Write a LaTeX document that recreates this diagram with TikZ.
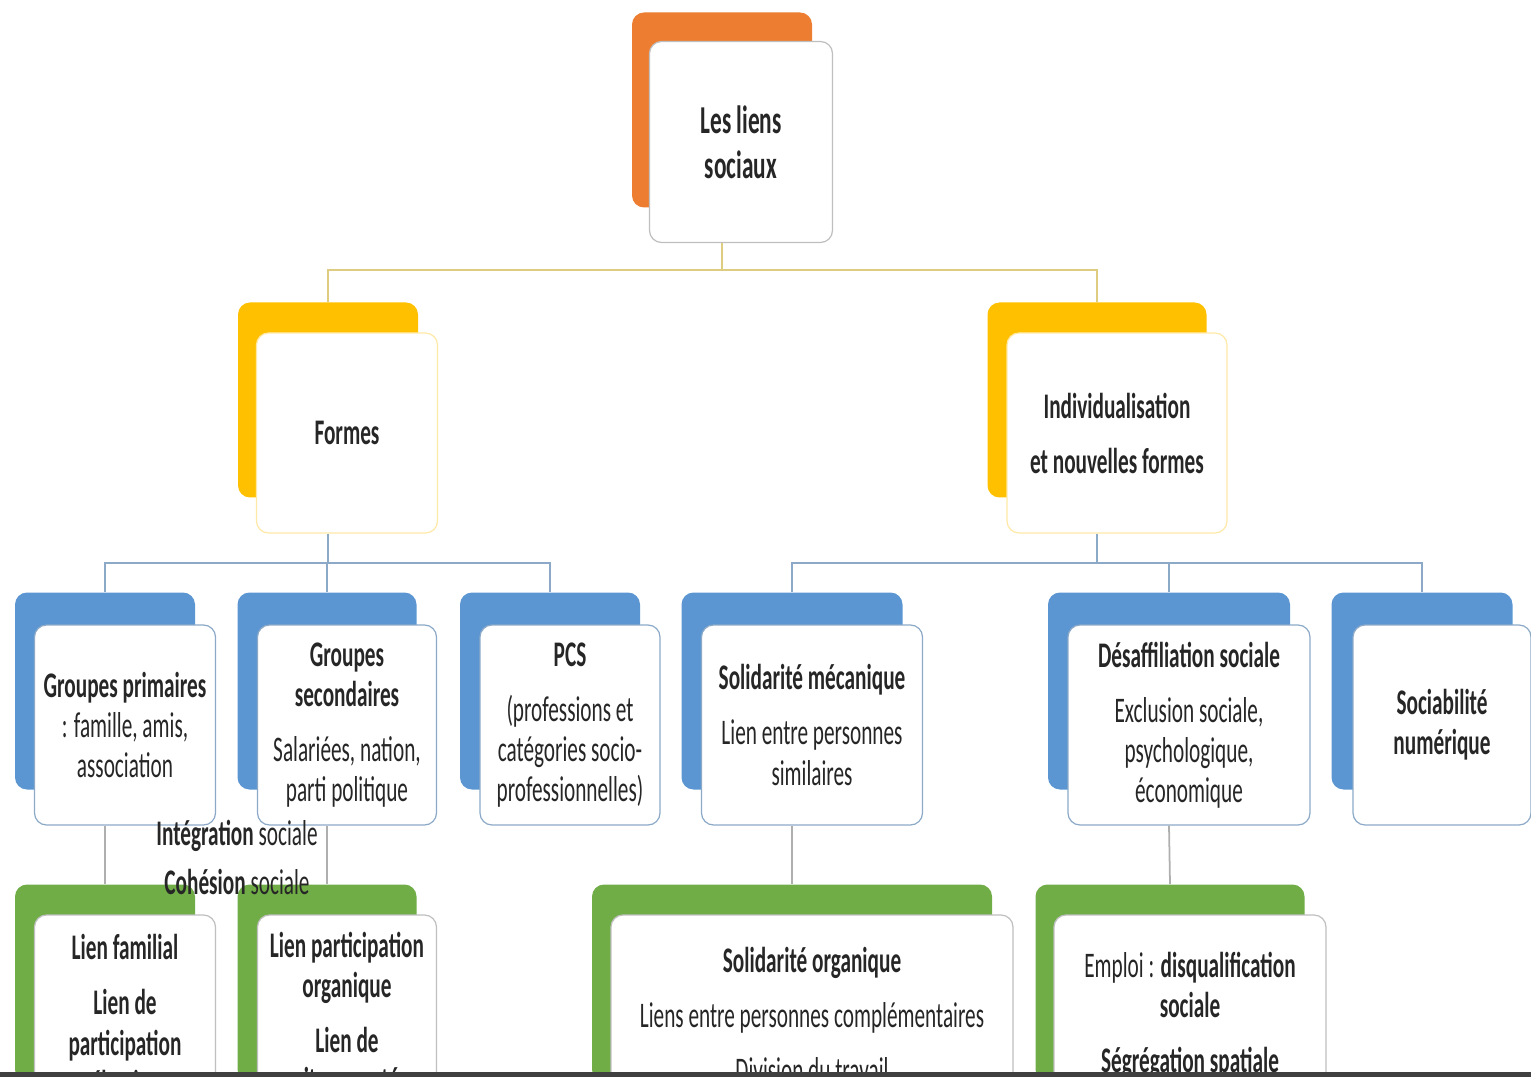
\documentclass[tikz,border=0pt]{standalone}
\usepackage{fontspec}
\setmainfont[FakeStretch=0.59]{Carlito}

\definecolor{lorange}{RGB}{237,125,49}
\definecolor{lyellow}{RGB}{255,192,0}
\definecolor{lblue}{RGB}{91,150,210}
\definecolor{lgreen}{RGB}{112,173,71}
\definecolor{ylinecol}{RGB}{222,204,128}
\definecolor{blinecol}{RGB}{140,170,200}
\definecolor{glinecol}{RGB}{175,175,175}

\tikzset{
  sz/.style 2 args={minimum width=#1*0.02cm, minimum height=#2*0.02cm},
  back/.style={rounded corners=0.24cm, inner sep=0pt},
  front/.style={fill=white, rounded corners=0.24cm, align=center, inner sep=0pt, line width=0.7pt},
  ylink/.style={draw=ylinecol, line width=1pt},
  blink/.style={draw=blinecol, line width=1pt},
  glink/.style={draw=glinecol, line width=1pt}
}

\begin{document}
\begin{tikzpicture}[x=0.02cm, y=-0.02cm, every node/.style={font=\fontsize{20.5}{22.8}\selectfont, text=black!85}]
\useasboundingbox (0,0) rectangle (1531,1077);
\begin{scope}
\clip (0,0) rectangle (1531,1072);

\coordinate (busA) at (0,270);
\coordinate (busB) at (0,563);

\node[back, fill=lorange, sz={180}{195}] (lsB) at (722,110) {};
\node[front, draw=black!25, sz={183}{201}, font=\fontsize{22.5}{24}\selectfont] (ls) at (741,142) {\textbf{Les liens}\\[1.6pt]\textbf{sociaux}};

\node[back, fill=lyellow, sz={180}{195}] (formesB) at (328,400) {};
\node[front, draw=lyellow!35, sz={181}{200}] (formes) at (347,433) {\textbf{Formes}};
\node[back, fill=lyellow, sz={219}{195}] (indivB) at (1097,400) {};
\node[front, draw=lyellow!35, sz={220}{200}] (indiv) at (1117,433) {\textbf{Individualisation}\\[8.5pt]\textbf{et nouvelles formes}};

\node[back, fill=lblue, sz={180}{197}] (gpB) at (105,691) {};
\node[front, draw=blinecol, sz={181}{200}] (gp) at (125,725) {\textbf{Groupes primaires}\\: famille, amis,\\association};
\node[back, fill=lblue, sz={179}{197}] (gsB) at (327,691) {};
\node[front, draw=blinecol, sz={179}{200}] (gs) at (347,725) {\textbf{Groupes}\\\textbf{secondaires}\\[8.5pt]Salariées, nation,\\parti politique};
\node[back, fill=lblue, sz={180}{197}] (pcsB) at (550,691) {};
\node[front, draw=blinecol, sz={180}{200}] (pcs) at (570,725) {\textbf{PCS}\\[8.5pt](professions et\\catégories socio-\\professionnelles)};
\node[back, fill=lblue, sz={221}{197}] (smB) at (792,691) {};
\node[front, draw=blinecol, sz={221}{200}] (sm) at (812,725) {\textbf{Solidarité mécanique}\\[8.5pt]Lien entre personnes\\similaires};
\node[back, fill=lblue, sz={242}{197}] (desB) at (1169,691) {};
\node[front, draw=blinecol, sz={242}{200}] (des) at (1189,725) {\textbf{Désaffiliation sociale}\\[8.5pt]Exclusion sociale,\\psychologique,\\économique};
\node[back, fill=lblue, sz={181}{197}] (socB) at (1422,691) {};
\node[front, draw=blinecol, sz={178}{200}] (soc) at (1442,725) {\textbf{Sociabilité}\\\textbf{numérique}};

\node[back, fill=lgreen, sz={180}{197}] (lfB) at (105,983) {};
\node[front, draw=black!25, sz={181}{200}] (lf) at (125,1015) {\textbf{Lien familial}\\[8.5pt]\textbf{Lien de}\\\textbf{participation}\\\textbf{élective}};
\node[back, fill=lgreen, sz={179}{197}] (lpB) at (327,983) {};
\node[front, draw=black!25, sz={179}{200}] (lp) at (347,1015) {\textbf{Lien participation}\\\textbf{organique}\\[8.5pt]\textbf{Lien de}\\\textbf{citoyenneté}};
\node[back, fill=lgreen, sz={400}{197}] (soB) at (792,983) {};
\node[front, draw=black!25, sz={402}{200}] (so) at (812,1015) {\textbf{Solidarité organique}\\[8.5pt]Liens entre personnes complémentaires\\[8.5pt]Division du travail};
\node[back, fill=lgreen, sz={269}{197}] (empB) at (1170,983) {};
\node[front, draw=black!25, sz={272}{200}] (emp) at (1190,1015) {Emploi : \textbf{disqualification}\\\textbf{sociale}\\[8.5pt]\textbf{Ségrégation spatiale}};

\draw[ylink] (lsB |- ls.south) -- (lsB |- busA);
\draw[ylink] (formesB.north) |- (indivB |- busA) -- (indivB.north);
\draw[blink] (formesB |- formes.south) -- (formesB |- busB);
\draw[blink] (gpB.north) |- (pcsB |- busB) -- (pcsB.north);
\draw[blink] (gsB |- busB) -- (gsB.north);
\draw[blink] (indivB |- indiv.south) -- (indivB |- busB);
\draw[blink] (smB.north) |- (socB |- busB) -- (socB.north);
\draw[blink] (desB |- busB) -- (desB.north);
\draw[glink] (gpB |- gp.south) -- (lfB.north);
\draw[glink] (gsB |- gs.south) -- (lpB.north);
\draw[glink] (smB |- sm.south) -- (soB.north);
\draw[glink] (desB |- des.south) -- (empB.north);

\node (integ) at (237,836) {\textbf{Intégration} sociale};
\node (cohes) at (237,882) {\textbf{Cohésion} sociale};
\end{scope}
\fill[black!75] (0,1072) rectangle (1531,1077);
\end{tikzpicture}
\end{document}
